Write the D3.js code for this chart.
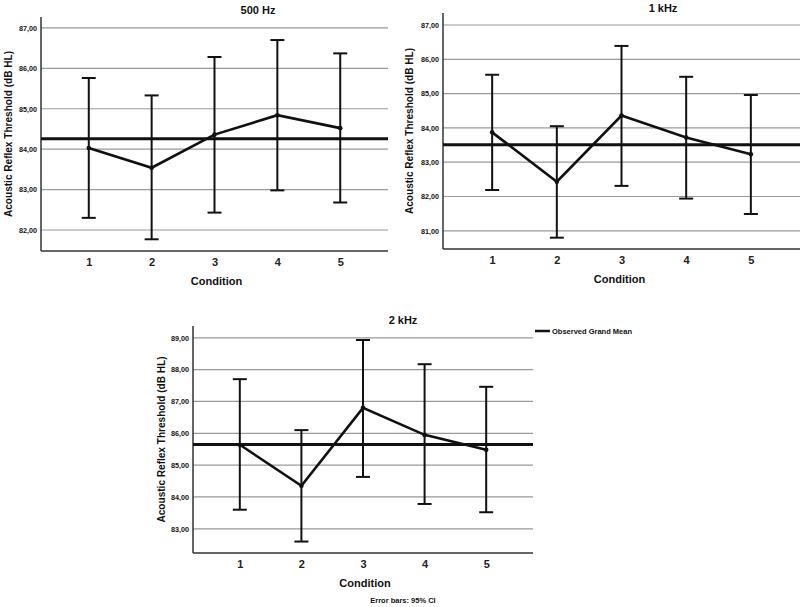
<!DOCTYPE html>
<html>
<head>
<meta charset="utf-8">
<script src="https://cdn.jsdelivr.net/npm/d3@7"></script>
<style>
  body { margin: 0; background: #fff; }
  svg { display: block; font-family: "Liberation Sans", Arial, sans-serif; font-weight: bold; }
</style>
</head>
<body>
<div id="chart"></div>
<script>
const conditions = ["1", "2", "3", "4", "5"];

// 500 Hz
const mean500 = [84.03, 83.54, 84.36, 84.84, 84.52];
const lower500 = [82.30, 81.77, 82.43, 82.98, 82.68];
const upper500 = [85.76, 85.33, 86.28, 86.70, 86.37];
const grand500 = 84.26;
const ticks500 = [82, 83, 84, 85, 86, 87];

// 1 kHz
const mean1k = [83.87, 82.43, 84.36, 83.72, 83.23];
const lower1k = [82.19, 80.80, 82.31, 81.94, 81.49];
const upper1k = [85.55, 84.05, 86.39, 85.49, 84.96];
const grand1k = 83.51;
const ticks1k = [81, 82, 83, 84, 85, 86, 87];

// 2 kHz
const mean2k = [85.64, 84.35, 86.80, 85.95, 85.48];
const lower2k = [83.60, 82.60, 84.63, 83.78, 83.52];
const upper2k = [87.70, 86.10, 88.93, 88.17, 87.46];
const grand2k = 85.65;
const ticks2k = [83, 84, 85, 86, 87, 88, 89];

const width = 800, height = 607;
const svg = d3.select("#chart").append("svg").attr("width", width).attr("height", height);

const comma = d3.formatLocale({decimal: ",", thousands: ".", grouping: [3], currency: ["", ""]}).format(".2f");

const panels = [
  {title: "500 Hz", means: mean500, lo: lower500, hi: upper500, grand: grand500, ticks: ticks500,
   domain: [81.48, 87.27], x0: 41, x1: 388, y0: 17, y1: 251, titleX: 258, titleY: 14, labelX: 8},
  {title: "1 kHz", means: mean1k, lo: lower1k, hi: upper1k, grand: grand1k, ticks: ticks1k,
   domain: [80.47, 87.35], x0: 443, x1: 800, y0: 13, y1: 249, titleX: 663, titleY: 12, labelX: 409},
  {title: "2 kHz", means: mean2k, lo: lower2k, hi: upper2k, grand: grand2k, ticks: ticks2k,
   domain: [82.24, 89.37], x0: 193, x1: 533, y0: 326, y1: 553, titleX: 403, titleY: 324, labelX: 161}
];

panels.forEach(p => {
  const x = d3.scalePoint().domain(conditions).range([p.x0, p.x1]).padding(0.76);
  const y = d3.scaleLinear().domain(p.domain).range([p.y1, p.y0]);
  const g = svg.append("g");

  // gridlines
  g.selectAll(".grid").data(p.ticks).join("line")
    .attr("x1", p.x0).attr("x2", p.x1)
    .attr("y1", d => y(d)).attr("y2", d => y(d))
    .attr("stroke", "#9a9a9a").attr("stroke-width", 1.2);

  // y axis
  const yAxis = g.append("g").attr("transform", `translate(${p.x0},0)`)
    .call(d3.axisLeft(y).tickValues(p.ticks).tickSize(0).tickPadding(4).tickFormat(comma));
  yAxis.select(".domain").remove();
  yAxis.selectAll("text").attr("font-size", 7.2).attr("font-family", "Liberation Sans, Arial").attr("font-weight", "bold").attr("fill", "#111");

  // x axis
  const xAxis = g.append("g").attr("transform", `translate(0,${p.y1})`)
    .call(d3.axisBottom(x).tickSize(0).tickPadding(7));
  xAxis.select(".domain").remove();
  xAxis.selectAll("text").attr("font-size", 11).attr("font-family", "Liberation Sans, Arial").attr("font-weight", "bold").attr("fill", "#222");

  // axis lines
  g.append("line").attr("x1", p.x0).attr("x2", p.x0).attr("y1", p.y0).attr("y2", p.y1)
    .attr("stroke", "#333").attr("stroke-width", 1.5);
  g.append("line").attr("x1", p.x0).attr("x2", p.x1).attr("y1", p.y1).attr("y2", p.y1)
    .attr("stroke", "#333").attr("stroke-width", 1.5);

  // grand mean
  g.append("line").attr("x1", p.x0).attr("x2", p.x1)
    .attr("y1", y(p.grand)).attr("y2", y(p.grand))
    .attr("stroke", "#111").attr("stroke-width", 3);

  // error bars
  const bars = g.selectAll(".err").data(conditions).join("g");
  bars.append("line")
    .attr("x1", d => x(d)).attr("x2", d => x(d))
    .attr("y1", (d, i) => y(p.lo[i])).attr("y2", (d, i) => y(p.hi[i]))
    .attr("stroke", "#111").attr("stroke-width", 2);
  [p.lo, p.hi].forEach(arr => {
    bars.append("line")
      .attr("x1", d => x(d) - 7).attr("x2", d => x(d) + 7)
      .attr("y1", (d, i) => y(arr[i])).attr("y2", (d, i) => y(arr[i]))
      .attr("stroke", "#111").attr("stroke-width", 2);
  });

  // mean line
  g.append("path").datum(p.means)
    .attr("fill", "none").attr("stroke", "#111").attr("stroke-width", 2.6)
    .attr("d", d3.line().x((d, i) => x(conditions[i])).y(d => y(d)));
  g.selectAll(".pt").data(p.means).join("circle")
    .attr("cx", (d, i) => x(conditions[i])).attr("cy", d => y(d)).attr("r", 2.3).attr("fill", "#111");

  // titles and labels
  g.append("text").attr("x", p.titleX).attr("y", p.titleY).attr("text-anchor", "middle")
    .attr("font-size", 11).attr("fill", "#111").text(p.title);
  g.append("text").attr("x", (p.x0 + p.x1) / 2 + (p.title === "1 kHz" ? -2 : 2)).attr("y", p.y1 + 34)
    .attr("text-anchor", "middle").attr("font-size", 11).attr("fill", "#111").text("Condition");
  g.append("text")
    .attr("transform", `translate(${p.labelX},${(p.y0 + p.y1) / 2}) rotate(-90)`)
    .attr("dy", "0.35em").attr("text-anchor", "middle").attr("font-size", 11).attr("fill", "#111")
    .attr("textLength", 166).attr("lengthAdjust", "spacingAndGlyphs")
    .text("Acoustic Reflex Threshold (dB HL)");
});

// legend
svg.append("line").attr("x1", 535).attr("x2", 550).attr("y1", 331).attr("y2", 331)
  .attr("stroke", "#111").attr("stroke-width", 2.5);
svg.append("text").attr("x", 552).attr("y", 331).attr("dy", "0.35em")
  .attr("font-size", 7.5).attr("fill", "#111").text("Observed Grand Mean");

svg.append("text").attr("x", 403).attr("y", 603).attr("text-anchor", "middle")
  .attr("font-size", 7.5).attr("fill", "#111").text("Error bars: 95% CI");
</script>
</body>
</html>
